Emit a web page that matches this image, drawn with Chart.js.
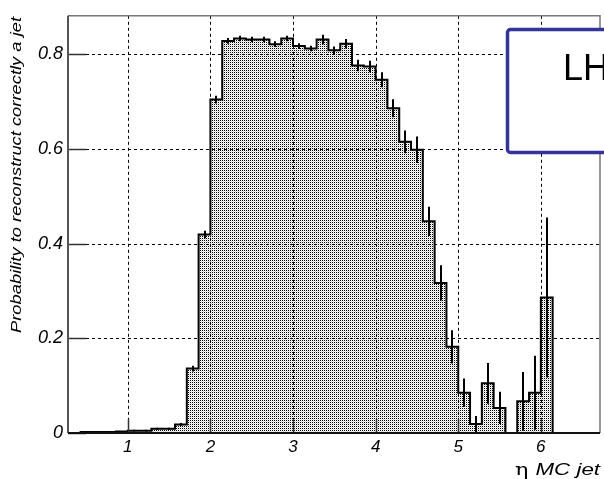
<!DOCTYPE html>
<html><head><meta charset="utf-8">
<script src="https://cdn.jsdelivr.net/npm/chart.js@4.4.0/dist/chart.umd.min.js"></script>
<style>html,body{margin:0;padding:0;background:#fff;}#wrap{width:604px;height:479px;position:relative;}canvas{display:block;}</style>
</head><body><div id="wrap"><canvas id="c" width="604" height="479" style="width:604px;height:479px"></canvas></div>
<script>
// bin edges in eta (41 edges -> 40 bins)
const binEdges = [0.4286,0.5714,0.7143,0.8571,1.0,1.1429,1.2857,1.4286,1.5714,1.7143,1.8571,2.0,2.1429,2.2857,2.4286,2.5714,2.7143,2.8571,3.0,3.1429,3.2857,3.4286,3.5714,3.7143,3.8571,4.0,4.1429,4.2857,4.4286,4.5714,4.7143,4.8571,5.0,5.1429,5.2857,5.4286,5.5714,5.7143,5.8571,6.0,6.1429];
const probability = [0.002,0.002,0.002,0.003,0.005,0.005,0.009,0.009,0.018,0.136,0.419,0.704,0.828,0.833,0.831,0.831,0.821,0.833,0.817,0.812,0.831,0.808,0.822,0.776,0.774,0.746,0.686,0.615,0.598,0.447,0.317,0.182,0.085,0.019,0.105,0.053,0,0.067,0.085,0.286];
const probError = [0.001,0.001,0.001,0.001,0.002,0.002,0.002,0.002,0.003,0.006,0.008,0.008,0.006,0.006,0.006,0.006,0.006,0.006,0.006,0.006,0.010,0.008,0.010,0.012,0.012,0.016,0.019,0.024,0.028,0.031,0.037,0.035,0.030,0.017,0.043,0.034,0,0.062,0.078,0.169];
const xTickValues = [1,2,3,4,5,6];
const yTickValues = [0,0.2,0.4,0.6,0.8];
const yTitle = 'Probability to reconstruct correctly a jet';
const xTitleSymbol = 'η';
const xTitleText = 'MC jet';
const boxText = 'LH';

// step outline points built from the bins
const stepPts = [{x: binEdges[0], y: 0}];
for (let i = 0; i < probability.length; i++) stepPts.push({x: binEdges[i], y: probability[i]});
stepPts.push({x: binEdges[binEdges.length-1], y: probability[probability.length-1]});
stepPts.push({x: binEdges[binEdges.length-1], y: 0});

// dotted fill pattern
const pc = document.createElement('canvas'); pc.width = 2; pc.height = 2;
const pctx = pc.getContext('2d'); pctx.fillStyle = '#fff'; pctx.fillRect(0,0,2,2);
pctx.fillStyle = '#000'; pctx.fillRect(0,0,1,1);
pctx.fillStyle = '#d8d8d8'; pctx.fillRect(1,1,1,1);
const ctx0 = document.getElementById('c').getContext('2d');
const dotPattern = ctx0.createPattern(pc, 'repeat');

const deco = {
  id: 'deco',
  afterDatasetsDraw(chart) {
    const {ctx, chartArea: a, scales: {x, y}} = chart;
    ctx.save();
    // dashed grid
    ctx.strokeStyle = '#000'; ctx.lineWidth = 1; ctx.setLineDash([3,3]);
    ctx.beginPath();
    xTickValues.forEach(v => { const px = Math.round(x.getPixelForValue(v)) + 0.5; ctx.moveTo(px, a.top); ctx.lineTo(px, a.bottom); });
    yTickValues.forEach(v => { if (v === 0) return; const py = Math.round(y.getPixelForValue(v)) + 0.5; ctx.moveTo(a.left, py); ctx.lineTo(a.right, py); });
    ctx.stroke();
    ctx.setLineDash([]);
    // error bars
    ctx.save();
    ctx.beginPath(); ctx.rect(a.left, a.top, a.right - a.left, a.bottom - a.top); ctx.clip();
    ctx.strokeStyle = '#000'; ctx.lineWidth = 2;
    ctx.beginPath();
    for (let i = 0; i < probability.length; i++) {
      if (!probError[i]) continue;
      const cx = Math.round(x.getPixelForValue((binEdges[i] + binEdges[i+1]) / 2));
      ctx.moveTo(cx, y.getPixelForValue(probability[i] - probError[i]));
      ctx.lineTo(cx, y.getPixelForValue(probability[i] + probError[i]));
    }
    ctx.stroke();
    ctx.restore();
    // tick marks (inside)
    ctx.strokeStyle = '#333'; ctx.lineWidth = 1.5;
    ctx.beginPath();
    yTickValues.forEach(v => { const py = Math.round(y.getPixelForValue(v)) + 0.5; ctx.moveTo(a.left, py); ctx.lineTo(a.left + 18, py); });
    xTickValues.forEach(v => { const px = Math.round(x.getPixelForValue(v)) + 0.5; ctx.moveTo(px, a.bottom); ctx.lineTo(px, a.bottom - 14); });
    ctx.stroke();
    // frame
    ctx.strokeStyle = '#777'; ctx.lineWidth = 1.5;
    ctx.beginPath(); ctx.moveTo(a.left, a.top); ctx.lineTo(a.right, a.top); ctx.lineTo(a.right, a.bottom); ctx.stroke();
    ctx.strokeStyle = '#555'; ctx.lineWidth = 2;
    ctx.beginPath(); ctx.moveTo(a.left, a.top); ctx.lineTo(a.left, a.bottom); ctx.stroke();
    ctx.strokeStyle = '#111'; ctx.lineWidth = 2;
    ctx.beginPath(); ctx.moveTo(a.left, a.bottom); ctx.lineTo(a.right, a.bottom); ctx.stroke();
    ctx.restore();
  },
  afterDraw(chart) {
    const {ctx, chartArea: a} = chart;
    ctx.save();
    // y title (rotated, aligned to top)
    ctx.fillStyle = '#000';
    ctx.font = 'italic 14px "Liberation Sans", Arial, sans-serif';
    const w = ctx.measureText(yTitle).width;
    ctx.translate(21, 17);
    ctx.rotate(-Math.PI / 2);
    ctx.scale(316 / w, 1);
    ctx.textAlign = 'right'; ctx.textBaseline = 'alphabetic';
    ctx.fillText(yTitle, 0, 0);
    ctx.restore();
    // x title
    ctx.save();
    ctx.fillStyle = '#000';
    ctx.font = '16px "DejaVu Serif", serif';
    const ws = ctx.measureText(xTitleSymbol + ' ').width;
    ctx.font = 'italic 16px "Liberation Sans", Arial, sans-serif';
    const wt = ctx.measureText(xTitleText).width;
    const sc = 85 / (ws + wt);
    ctx.translate(600, 475);
    ctx.scale(sc, 1);
    ctx.textBaseline = 'alphabetic'; ctx.textAlign = 'left';
    ctx.fillText(xTitleText, -wt, 0);
    ctx.font = '16px "DejaVu Serif", serif';
    ctx.fillText(xTitleSymbol, -wt - ws, 0);
    ctx.restore();
    // LH box
    ctx.save();
    ctx.fillStyle = '#fff'; ctx.strokeStyle = '#333399'; ctx.lineWidth = 3.5;
    ctx.beginPath();
    ctx.roundRect(507.5, 29.5, 140, 123, 3);
    ctx.fill(); ctx.stroke();
    ctx.fillStyle = '#000';
    ctx.font = '36px "Liberation Sans", Arial, sans-serif';
    ctx.textAlign = 'left'; ctx.textBaseline = 'alphabetic';
    ctx.fillText(boxText, 563, 80);
    ctx.restore();
  }
};

new Chart(ctx0, {
  type: 'line',
  data: {
    datasets: [{
      data: stepPts,
      stepped: 'before',
      borderColor: '#000',
      borderWidth: 2,
      backgroundColor: dotPattern,
      fill: 'origin',
      pointRadius: 0,
      tension: 0
    }]
  },
  options: {
    responsive: false,
    animation: false,
    devicePixelRatio: 1,
    layout: {padding: {top: 10, right: 4, left: 0, bottom: 0}},
    plugins: {legend: {display: false}, tooltip: {enabled: false}},
    scales: {
      x: {
        type: 'linear', min: 0.276, max: 6.716,
        afterFit(s) { s.height = 46; },
        afterBuildTicks(s) { s.ticks = xTickValues.map(v => ({value: v})); },
        grid: {display: false, drawTicks: false},
        border: {display: false},
        ticks: {padding: 4, color: '#000', font: {family: '"Liberation Sans", Arial, sans-serif', size: 17, style: 'italic'}, maxRotation: 0, callback: v => String(v)}
      },
      y: {
        type: 'linear', min: 0, max: 0.881,
        afterFit(s) { s.width = 68; },
        afterBuildTicks(s) { s.ticks = yTickValues.map(v => ({value: v})); },
        grid: {display: false, drawTicks: false},
        border: {display: false},
        ticks: {padding: 5, color: '#000', font: {family: '"Liberation Sans", Arial, sans-serif', size: 18, style: 'italic'}, callback: v => v === 0 ? '0' : v.toFixed(1)}
      }
    }
  },
  plugins: [deco]
});
</script>
</body></html>
